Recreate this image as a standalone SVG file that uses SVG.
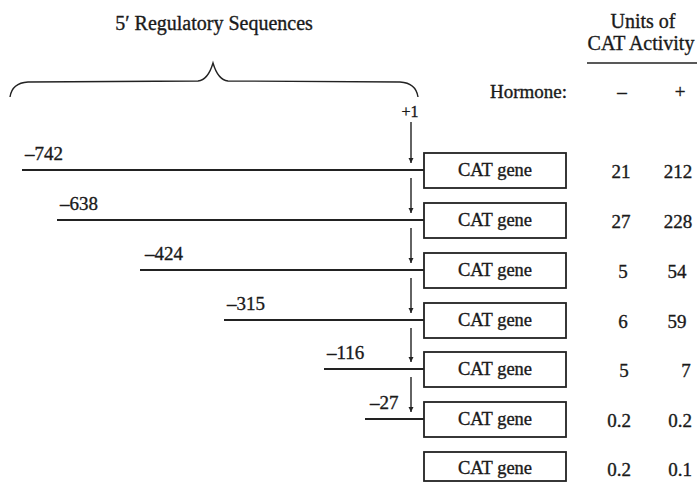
<svg xmlns="http://www.w3.org/2000/svg" width="700" height="482" viewBox="0 0 700 482">
<defs>
<style>
text{font-family:"Liberation Serif","Times New Roman",serif;fill:#1a1a1a;stroke:#1a1a1a;stroke-width:0.35}
.h{font-size:20px}
.g{font-size:18.5px;text-anchor:middle}
.n{font-size:19px;text-anchor:middle}
.l{font-size:19px}
.ln{stroke:#222;stroke-width:2;fill:none}
.ar{stroke:#222;stroke-width:1.4;fill:none}
.bx{fill:#fff;stroke:#222;stroke-width:1.8}
</style>
<marker id="ah" viewBox="0 0 10 10" refX="10" refY="5" markerWidth="5" markerHeight="6" markerUnits="userSpaceOnUse" orient="auto">
<path d="M0,0 L10,5 L0,10 Z" fill="#222"/>
</marker>
</defs>
<rect width="700" height="482" fill="#fff"/>

<g id="header">
<text class="h" x="214" y="30" text-anchor="middle">5′ Regulatory Sequences</text>
<path class="ar" d="M10,97 Q12,83 28,82 L198,81 Q208,80 213,63 Q218,80 228,81 L400,82 Q416,83 418,97" stroke-width="1.5"/>
<text class="h" x="643" y="28" text-anchor="middle">Units of</text>
<text class="h" x="641" y="50" text-anchor="middle">CAT Activity</text>
<line x1="587" y1="63" x2="697" y2="63" stroke="#222" stroke-width="1.5"/>
<text class="l" x="567" y="98" text-anchor="end">Hormone:</text>
<text class="n" x="622" y="98">–</text>
<text class="n" x="680" y="98">+</text>
<text x="410" y="117" font-size="16" text-anchor="middle">+1</text>
</g>

<g id="connectors">
<line class="ln" x1="22" y1="170" x2="424" y2="170"/>
<line class="ln" x1="57" y1="220" x2="424" y2="220"/>
<line class="ln" x1="140" y1="270" x2="424" y2="270"/>
<line class="ln" x1="224" y1="320" x2="424" y2="320"/>
<line class="ln" x1="324" y1="369" x2="424" y2="369"/>
<line class="ln" x1="365" y1="419" x2="424" y2="419"/>
<line class="ar" x1="411" y1="122" x2="411" y2="163" marker-end="url(#ah)"/>
<line class="ar" x1="411" y1="178" x2="411" y2="213" marker-end="url(#ah)"/>
<line class="ar" x1="411" y1="228" x2="411" y2="263" marker-end="url(#ah)"/>
<line class="ar" x1="411" y1="278" x2="411" y2="313" marker-end="url(#ah)"/>
<line class="ar" x1="411" y1="328" x2="411" y2="362" marker-end="url(#ah)"/>
<line class="ar" x1="411" y1="377" x2="411" y2="412" marker-end="url(#ah)"/>
</g>

<g id="row742">
<text class="l" x="25" y="160">–742</text>
<rect class="bx" x="424" y="153" width="142" height="35"/>
<text class="g" x="495" y="176">CAT gene</text>
<text class="n" x="621" y="178">21</text>
<text class="n" x="678" y="178">212</text>
</g>
<g id="row638">
<text class="l" x="60" y="210">–638</text>
<rect class="bx" x="424" y="203" width="142" height="35"/>
<text class="g" x="495" y="226">CAT gene</text>
<text class="n" x="621" y="228">27</text>
<text class="n" x="678" y="228">228</text>
</g>
<g id="row424">
<text class="l" x="145" y="260">–424</text>
<rect class="bx" x="424" y="253" width="142" height="35"/>
<text class="g" x="495" y="276">CAT gene</text>
<text class="n" x="623" y="278">5</text>
<text class="n" x="677" y="278">54</text>
</g>
<g id="row315">
<text class="l" x="227" y="310">–315</text>
<rect class="bx" x="424" y="303" width="142" height="35"/>
<text class="g" x="495" y="326">CAT gene</text>
<text class="n" x="623" y="328">6</text>
<text class="n" x="677" y="328">59</text>
</g>
<g id="row116">
<text class="l" x="327" y="359">–116</text>
<rect class="bx" x="424" y="352" width="142" height="35"/>
<text class="g" x="495" y="375">CAT gene</text>
<text class="n" x="624" y="377">5</text>
<text class="n" x="686" y="377">7</text>
</g>
<g id="row27">
<text class="l" x="370" y="409">–27</text>
<rect class="bx" x="424" y="402" width="142" height="35"/>
<text class="g" x="495" y="425">CAT gene</text>
<text class="n" x="619" y="427">0.2</text>
<text class="n" x="680" y="427">0.2</text>
</g>
<g id="row0">
<rect class="bx" x="424" y="452" width="142" height="29"/>
<text class="g" x="495" y="474">CAT gene</text>
<text class="n" x="619" y="476">0.2</text>
<text class="n" x="680" y="476">0.1</text>
</g>
</svg>
